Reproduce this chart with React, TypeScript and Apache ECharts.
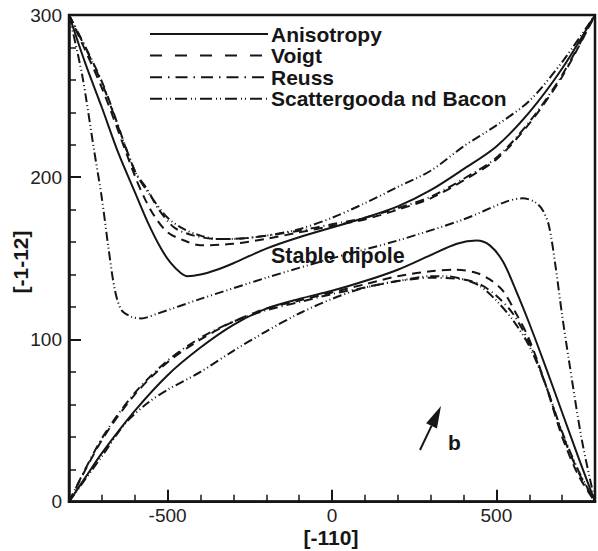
import React, { useEffect, useRef } from "react";
import * as echarts from "echarts";

const FONT = '"Liberation Sans", Arial, Helvetica, sans-serif';
const INK = "#161616";

// axis ticks / labels
const xRange = [-800, 800];
const yRange = [0, 300];
const xMajorTicks = [-500, 0, 500];
const xAxisName = "[-110]";
const yAxisName = "[-1-12]";

// legend names
const names = ["Anisotropy", "Voigt", "Reuss", "Scattergooda nd Bacon"];

// Anisotropy (solid)
const anisoUpper = [[-800,300],[-750,270],[-700,243],[-650,215],[-600,191],[-560,172],[-520,156],[-490,147],[-460,141],[-440,139],[-400,140],[-350,143],[-300,147],[-200,156],[-100,163],[0,169],[100,175],[200,182],[300,192],[400,205],[500,219],[600,240],[700,267],[800,300]];
const anisoLower = [[-800,0],[-750,15],[-700,30],[-600,56],[-500,78],[-400,95],[-300,109],[-200,119],[-100,125],[0,130],[100,136],[200,143],[300,152],[380,159],[440,161],[480,158],[520,148],[560,130],[600,110],[650,83],[700,55],[750,27],[800,0]];

// Voigt (dashed)
const voigtUpper = [[-800,300],[-700,255],[-600,201],[-570,187],[-540,176],[-500,166],[-450,161],[-400,158],[-300,159],[-200,162],[-100,166],[0,170],[100,174],[200,180],[300,187],[400,198],[500,211],[600,233],[700,262],[800,300]];
const voigtLower = [[-800,0],[-700,38],[-600,66],[-500,86],[-400,100],[-300,111],[-200,119],[-100,124],[0,129],[100,134],[200,139],[300,142],[380,143],[440,141],[480,137],[520,130],[560,116],[600,100],[650,72],[700,40],[750,16],[800,0]];

// Reuss (dash-dot)
const reussUpper = [[-800,300],[-700,259],[-600,204],[-560,192],[-530,181],[-480,169],[-420,164],[-350,162],[-300,162],[-200,164],[-100,167],[0,171],[100,175],[200,181],[300,188],[400,199],[500,212],[600,234],[700,263],[800,300]];
const reussLower = [[-800,0],[-700,39],[-600,67],[-500,87],[-400,101],[-300,111],[-200,118],[-100,123],[0,128],[100,132],[200,136],[300,138],[400,137],[450,134],[500,127],[550,116],[600,98],[650,72],[700,42],[750,18],[800,0]];

// Scattergood and Bacon (dash-dot-dot)
const sbUpper = [[-800,300],[-700,258],[-600,204],[-550,188],[-500,175],[-450,168],[-400,164],[-350,162],[-300,162],[-200,164],[-100,168],[0,175],[100,184],[200,194],[300,204],[400,219],[500,232],[600,247],[700,271],[800,300]];
const sbLower = [[-800,0],[-700,28],[-630,48],[-560,61],[-500,69],[-400,80],[-300,93],[-200,105],[-100,116],[0,125],[100,132],[200,136],[300,139],[350,139],[400,137],[450,133],[500,124],[550,112],[600,96],[650,72],[700,43],[750,19],[800,0]];
const sbCross = [[-800,300],[-760,263],[-724,217],[-700,187],[-679,155],[-660,130],[-640,118],[-610,114],[-580,113],[-530,116],[-400,125],[-200,138],[0,150],[200,161],[400,174],[530,185],[580,187],[615,185],[640,180],[660,170],[680,145],[700,115],[720,88],[760,38],[800,0]];

const DASH: Record<string, any> = {
  solid: "solid",
  voigt: [9, 6],
  reuss: [9, 4, 1, 4],
  sb: [9, 3, 1, 3, 1, 3],
};
const LEGEND_DASH: any[] = [null, [12, 13], [12, 6, 1.5, 6], [12, 4, 1, 3, 1, 4]];

function mk(name: string, data: number[][], dash: any) {
  return {
    type: "line",
    name,
    data,
    symbol: "none",
    showSymbol: false,
    smooth: 0.3,
    silent: true,
    lineStyle: { color: INK, width: 2, type: dash },
  };
}

export default function App() {
  const ref = useRef<HTMLDivElement>(null);
  useEffect(() => {
    const chart = echarts.init(ref.current!, null, { renderer: "svg" });
    const tip = [441, 406];
    const tail = [420, 450];
    const dx = tip[0] - tail[0], dy = tip[1] - tail[1];
    const L = Math.hypot(dx, dy);
    const ux = dx / L, uy = dy / L;
    const bx = tip[0] - 22 * ux, by = tip[1] - 22 * uy;
    const px = -uy, py = ux;

    const legendGraphics: any[] = [];
    names.forEach((n, i) => {
      const cy = 34 + i * 21.6;
      legendGraphics.push({
        type: "line",
        shape: { x1: 150, y1: cy, x2: 268, y2: cy },
        style: { stroke: INK, lineWidth: 2, lineDash: LEGEND_DASH[i] || undefined },
      });
      legendGraphics.push({
        type: "text",
        x: 271,
        y: cy,
        style: { text: n, font: `bold 21px ${FONT}`, fill: INK, verticalAlign: "middle" },
      });
    });

    const option: any = {
      animation: false,
      backgroundColor: "#fff",
      textStyle: { fontFamily: FONT },
      grid: { left: 69, top: 15, bottom: 49.3, right: -5, show: true, borderColor: INK, borderWidth: 2.5, backgroundColor: "transparent" },
      xAxis: [
        {
          type: "value",
          min: xRange[0],
          max: xRange[1],
          interval: 100,
          axisLine: { show: true, onZero: false, lineStyle: { color: INK, width: 2.5 } },
          axisTick: { show: true, inside: true, length: 7, lineStyle: { color: INK, width: 1.5 } },
          axisLabel: {
            show: true,
            margin: 4,
            fontSize: 19,
            color: "#222",
            fontFamily: FONT,
            formatter: (v: number) => (xMajorTicks.indexOf(v) >= 0 ? String(v) : ""),
          },
          splitLine: { show: false },
        },
        {
          type: "value",
          min: xRange[0],
          max: xRange[1],
          position: "bottom",
          axisLine: { show: false, onZero: false },
          axisTick: { show: true, inside: true, length: 12, customValues: xMajorTicks, lineStyle: { color: INK, width: 2 } },
          axisLabel: { show: false },
          splitLine: { show: false },
        },
      ],
      yAxis: {
        type: "value",
        min: yRange[0],
        max: yRange[1],
        interval: 100,
        axisLine: { show: true, onZero: false, lineStyle: { color: INK, width: 2.5 } },
        axisTick: { show: true, inside: true, length: 12, lineStyle: { color: INK, width: 2 } },
        minorTick: { show: true, splitNumber: 5, length: 7, lineStyle: { color: INK, width: 1.5 } },
        axisLabel: { margin: 7, fontSize: 19, color: "#222", fontFamily: FONT },
        splitLine: { show: false },
        minorSplitLine: { show: false },
      },
      series: [
        mk(names[0], anisoUpper, DASH.solid),
        mk(names[0], anisoLower, DASH.solid),
        mk(names[1], voigtUpper, DASH.voigt),
        mk(names[1], voigtLower, DASH.voigt),
        mk(names[2], reussUpper, DASH.reuss),
        mk(names[2], reussLower, DASH.reuss),
        mk(names[3], sbUpper, DASH.sb),
        mk(names[3], sbLower, DASH.sb),
        mk(names[3], sbCross, DASH.sb),
      ],
      graphic: [
        ...legendGraphics,
        { type: "text", x: 271, y: 256, style: { text: "Stable dipole", font: `bold 21.5px ${FONT}`, fill: INK, verticalAlign: "middle" } },
        { type: "text", x: 448, y: 442, style: { text: "b", font: `bold 21px ${FONT}`, fill: INK, verticalAlign: "middle" } },
        { type: "line", shape: { x1: tail[0], y1: tail[1], x2: bx, y2: by }, style: { stroke: INK, lineWidth: 2 } },
        { type: "polygon", shape: { points: [tip, [bx + 6 * px, by + 6 * py], [bx - 6 * px, by - 6 * py]] }, style: { fill: INK } },
        { type: "text", x: 331, y: 537, style: { text: xAxisName, font: `bold 21px ${FONT}`, fill: INK, align: "center", verticalAlign: "middle" } },
        { type: "text", x: 20, y: 262, rotation: Math.PI / 2, style: { text: yAxisName, font: `bold 21px ${FONT}`, fill: INK, align: "center", verticalAlign: "middle" } },
      ],
    };
    chart.setOption(option);
    return () => chart.dispose();
  }, []);
  return <div ref={ref} style={{ position: "fixed", left: 0, top: 0, width: 598, height: 551 }} />;
}
